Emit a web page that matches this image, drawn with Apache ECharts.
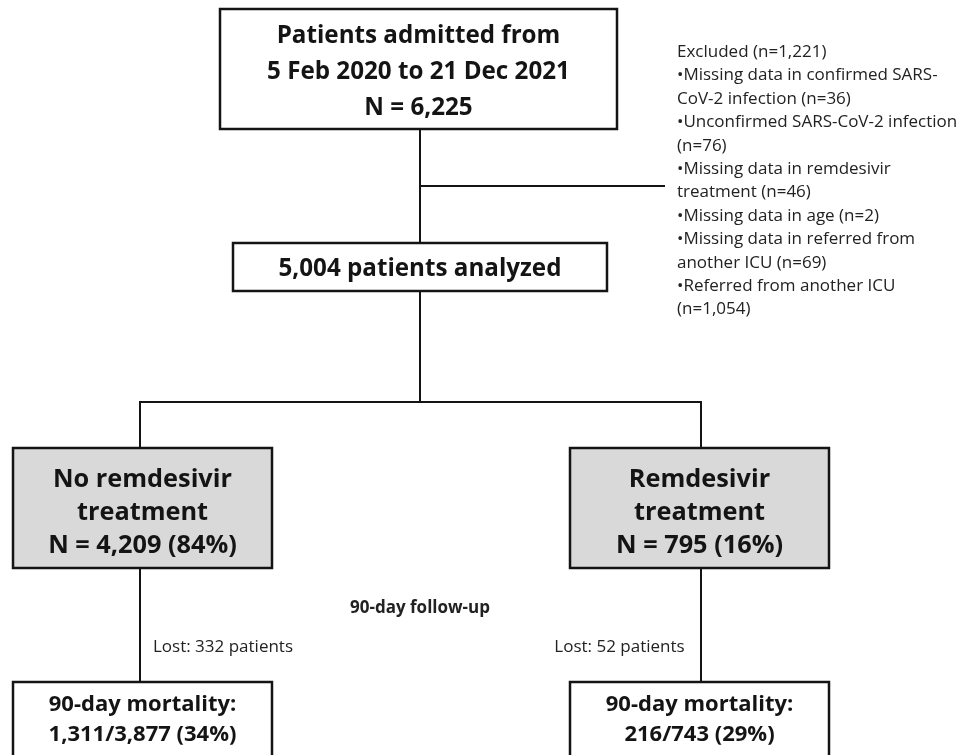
<!DOCTYPE html>
<html>
<head>
<meta charset="utf-8">
<script src="https://cdn.jsdelivr.net/npm/echarts@6/dist/echarts.min.js"></script>
<style>
  html, body { margin: 0; padding: 0; background: #fff; }
  #chart { width: 965px; height: 755px; }
</style>
</head>
<body>
<div id="chart"></div>
<script>
// flow numbers
const admittedFrom = '5 Feb 2020';
const admittedTo = '21 Dec 2021';
const admittedN = 6225;
const excludedN = 1221;
const exclusionLabels = [
  'Missing data in confirmed SARS-\nCoV-2 infection ',
  'Unconfirmed SARS-CoV-2 infection\n',
  'Missing data in remdesivir\ntreatment ',
  'Missing data in age ',
  'Missing data in referred from\nanother ICU ',
  'Referred from another ICU\n'
];
const exclusionCounts = [36, 76, 46, 2, 69, 1054];
const analyzedN = 5004;
const groupNames = ['No remdesivir\ntreatment', 'Remdesivir\ntreatment'];
const groupN = [4209, 795];
const groupPct = [84, 16];
const lostN = [332, 52];
const deaths = [1311, 216];
const followed = [3877, 743];
const mortalityPct = [34, 29];
const followUpDays = 90;

const fmt = n => n.toLocaleString('en-US');
const FONT = '"Open Sans", Lato, sans-serif';
const INK = '#141414';

// layout, in the pixel space of the 965x755 canvas
const colX = [140, 701];
const colBox = [[13, 272], [570, 829]];

const boxes = [
  { r: [220, 9, 617, 129], size: 24.2, lh: 36, dy: 3,
    text: 'Patients admitted from\n' + admittedFrom + ' to ' + admittedTo + '\nN = ' + fmt(admittedN) },
  { r: [233, 243, 607, 291], size: 24.2, lh: 30, dy: 2, text: fmt(analyzedN) + ' patients analyzed' }
];
[0, 1].forEach(i => {
  boxes.push({ r: [colBox[i][0], 448, colBox[i][1], 568], size: 25.3, lh: 33, dy: 5, fill: '#d9d9d9',
    text: groupNames[i] + '\nN = ' + fmt(groupN[i]) + ' (' + groupPct[i] + '%)' });
  boxes.push({ r: [colBox[i][0], 682, colBox[i][1], 800], size: 22, lh: 30, dy: -21,
    text: followUpDays + '-day mortality:\n' + fmt(deaths[i]) + '/' + fmt(followed[i]) + ' (' + mortalityPct[i] + '%)' });
});

const exclusionText = ['Excluded (n=' + fmt(excludedN) + ')']
  .concat(exclusionLabels.map((l, i) => '\u2022' + l + '(n=' + fmt(exclusionCounts[i]) + ')'))
  .join('\n');

const notes = [
  { p: [677, 40.5], text: exclusionText, size: 17, lh: 23.4, align: 'left', va: 'top' },
  { p: [420, 608], text: followUpDays + '-day follow-up', size: 17, weight: 'bold' },
  { p: [223, 647], text: 'Lost: ' + fmt(lostN[0]) + ' patients', size: 17 },
  { p: [619.5, 647], text: 'Lost: ' + fmt(lostN[1]) + ' patients', size: 17 }
];

const connectors = [
  [[420, 129], [420, 243]],
  [[420, 186], [665, 186]],
  [[420, 291], [420, 402]],
  [[colX[0], 448], [colX[0], 402], [colX[1], 402], [colX[1], 448]],
  [[colX[0], 568], [colX[0], 682]],
  [[colX[1], 568], [colX[1], 682]]
];

const chart = echarts.init(document.getElementById('chart'));
chart.setOption({
  animation: false,
  backgroundColor: '#fff',
  grid: { left: 0, right: 0, top: 0, bottom: 0 },
  xAxis: { type: 'value', min: 0, max: 965, show: false },
  yAxis: { type: 'value', min: 0, max: 755, inverse: true, show: false },
  series: [
    {
      type: 'lines',
      coordinateSystem: 'cartesian2d',
      polyline: true,
      silent: true,
      z: 1,
      lineStyle: { color: INK, width: 2, opacity: 1 },
      data: connectors.map(c => ({ coords: c }))
    },
    {
      type: 'custom',
      coordinateSystem: 'cartesian2d',
      silent: true,
      clip: false,
      z: 2,
      data: boxes.map(b => b.r),
      renderItem: function (params, api) {
        const b = boxes[params.dataIndex];
        const p1 = api.coord([api.value(0), api.value(1)]);
        const p2 = api.coord([api.value(2), api.value(3)]);
        return {
          type: 'group',
          children: [
            {
              type: 'rect',
              shape: { x: p1[0], y: p1[1], width: p2[0] - p1[0], height: p2[1] - p1[1] },
              style: { fill: b.fill || '#fff', stroke: INK, lineWidth: 2.5 }
            },
            {
              type: 'text',
              style: {
                text: b.text, x: (p1[0] + p2[0]) / 2, y: (p1[1] + p2[1]) / 2 + (b.dy || 0),
                align: 'center', verticalAlign: 'middle',
                fontFamily: FONT, fontWeight: 'bold', fontSize: b.size, lineHeight: b.lh, fill: INK
              }
            }
          ]
        };
      }
    },
    {
      type: 'custom',
      coordinateSystem: 'cartesian2d',
      silent: true,
      clip: false,
      z: 3,
      data: notes.map(n => n.p),
      renderItem: function (params, api) {
        const n = notes[params.dataIndex];
        const p = api.coord([api.value(0), api.value(1)]);
        return {
          type: 'text',
          style: {
            text: n.text, x: p[0], y: p[1],
            align: n.align || 'center', verticalAlign: n.va || 'middle',
            fontFamily: FONT, fontWeight: n.weight || 'normal', fontSize: n.size,
            lineHeight: n.lh || n.size * 1.3, fill: '#222'
          }
        };
      }
    }
  ]
});
</script>
</body>
</html>
